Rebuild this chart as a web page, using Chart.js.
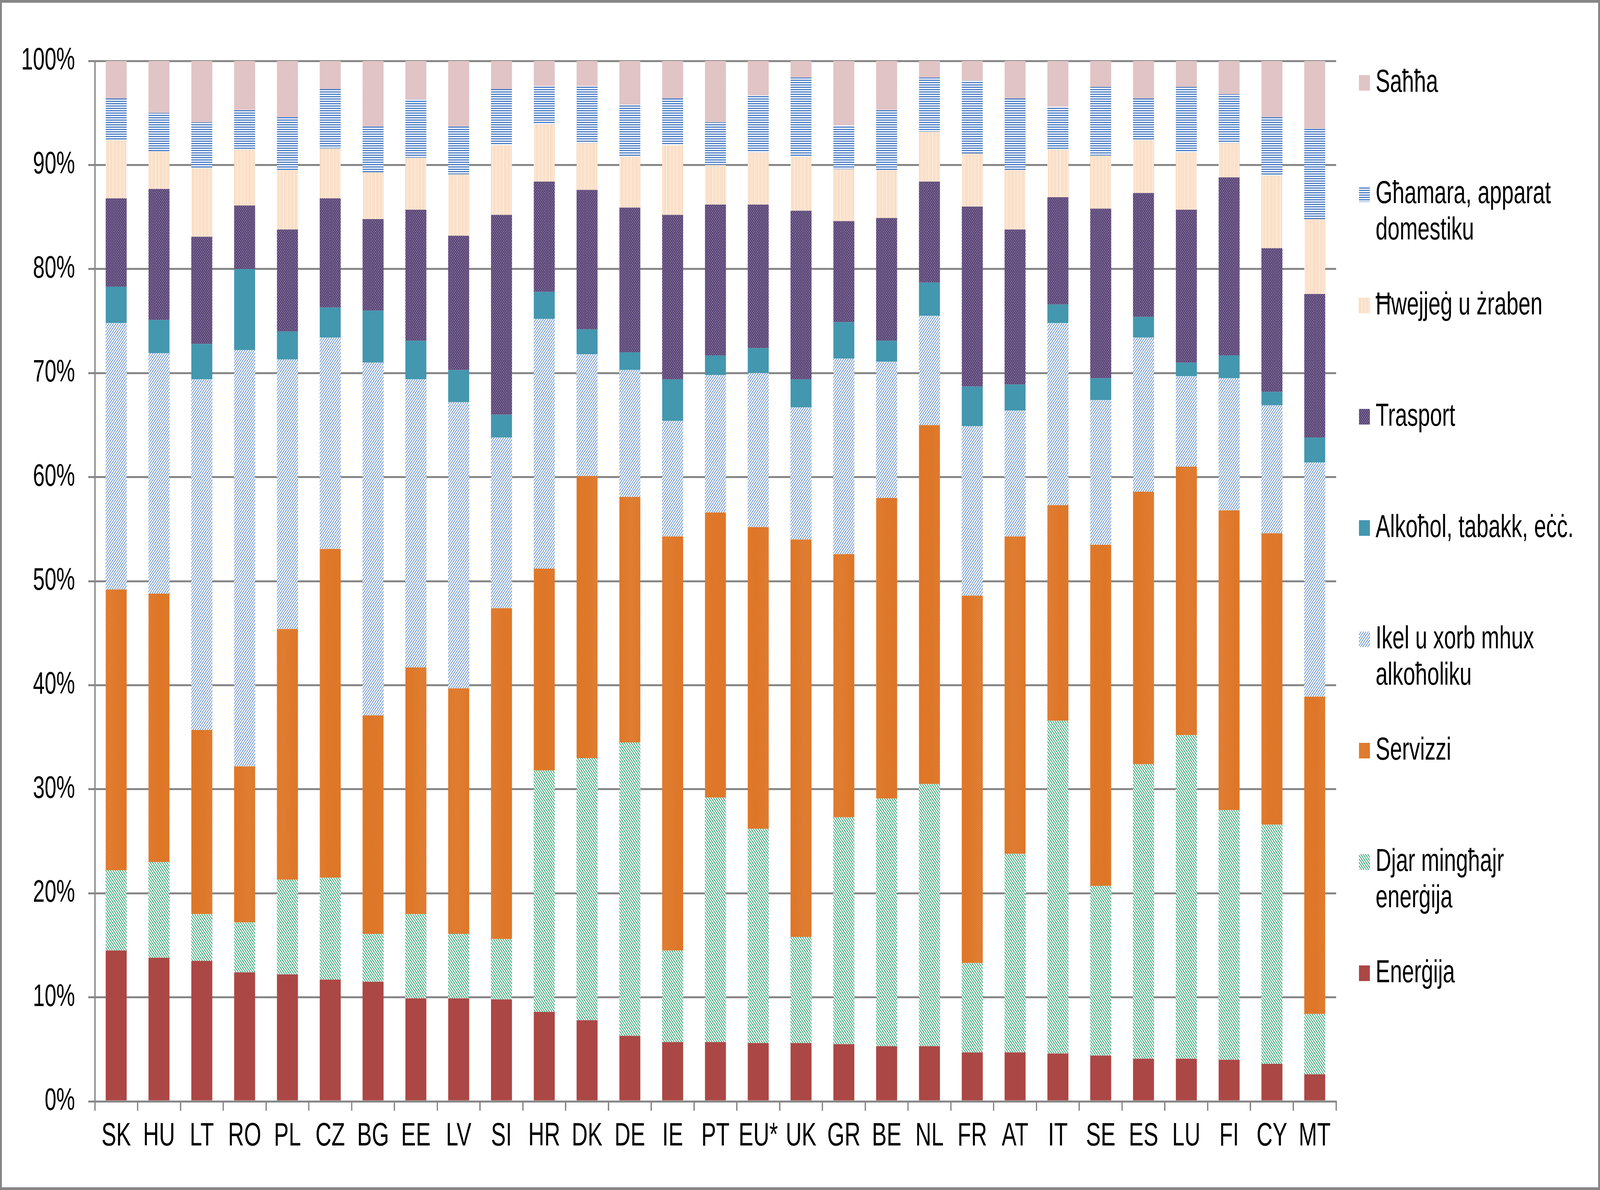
<!DOCTYPE html>
<html>
<head>
<meta charset="utf-8">
<script src="https://cdn.jsdelivr.net/npm/chart.js@4.4.0/dist/chart.umd.min.js"></script>
<style>
    html, body { margin: 0; padding: 0; background: #fff; overflow: hidden; }
    canvas { display: block; }
</style>
</head>
<body>
<canvas id="grafico" width="6075" height="3047" style="width:100vw;height:100vh"></canvas>
<script>
// Pajjiżi (assi x)
var pajjizi = ["SK", "HU", "LT", "RO", "PL", "CZ", "BG", "EE", "LV", "SI", "HR", "DK", "DE", "IE", "PT",
    "EU*", "UK", "GR", "BE", "NL", "FR", "AT", "IT", "SE", "ES", "LU", "FI", "CY", "MT"];

// Sehem ta' kull kategorija (%), mill-isfel għall-fuq
var energija = [14.5, 13.8, 13.5, 12.4, 12.2, 11.7, 11.5, 9.9, 9.9, 9.8, 8.6, 7.8, 6.3, 5.7, 5.7,
    5.6, 5.6, 5.5, 5.3, 5.3, 4.7, 4.7, 4.6, 4.4, 4.1, 4.1, 4.0, 3.6, 2.6];
var djar = [7.7, 9.2, 4.5, 4.8, 9.1, 9.8, 4.6, 8.1, 6.2, 5.8, 23.2, 25.2, 28.2, 8.8, 23.5,
    20.6, 10.2, 21.8, 23.8, 25.2, 8.6, 19.1, 32.0, 16.3, 28.3, 31.1, 24.0, 23.0, 5.8];
var servizzi = [27.0, 25.8, 17.7, 15.0, 24.1, 31.6, 21.0, 23.7, 23.6, 31.8, 19.4, 27.1, 23.6, 39.8, 27.4,
    29.0, 38.2, 25.3, 28.9, 34.5, 35.3, 30.5, 20.7, 32.8, 26.2, 25.8, 28.8, 28.0, 30.5];
var ikel = [25.6, 23.1, 33.7, 40.0, 25.9, 20.3, 33.9, 27.7, 27.5, 16.4, 24.0, 11.7, 12.2, 11.1, 13.2,
    14.8, 12.7, 18.8, 13.1, 10.5, 16.3, 12.1, 17.5, 13.9, 14.8, 8.7, 12.7, 12.3, 22.5];
var alkohol = [3.5, 3.2, 3.4, 7.8, 2.7, 2.9, 5.0, 3.7, 3.1, 2.2, 2.6, 2.4, 1.7, 4.0, 1.9,
    2.4, 2.7, 3.5, 2.0, 3.2, 3.8, 2.5, 1.8, 2.1, 2.0, 1.3, 2.2, 1.3, 2.4];
var trasport = [8.5, 12.6, 10.3, 6.1, 9.8, 10.5, 8.8, 12.6, 12.9, 19.2, 10.6, 13.4, 13.9, 15.8, 14.5,
    13.8, 16.2, 9.7, 11.8, 9.7, 17.3, 14.9, 10.3, 16.3, 11.9, 14.7, 17.1, 13.8, 13.8];
var hwejjeg = [5.6, 3.6, 6.6, 5.4, 5.7, 4.8, 4.5, 5.0, 5.9, 6.7, 5.5, 4.5, 4.9, 6.7, 3.8,
    5.0, 5.2, 5.0, 4.6, 4.8, 5.1, 5.7, 4.6, 5.1, 5.1, 5.5, 3.3, 7.0, 7.2];
var ghamara = [4.0, 3.7, 4.4, 3.8, 5.1, 5.7, 4.4, 5.6, 4.6, 5.4, 3.7, 5.5, 5.0, 4.5, 4.1,
    5.5, 7.6, 4.2, 5.8, 5.2, 7.0, 6.9, 4.1, 6.6, 4.0, 6.3, 4.7, 5.6, 8.7];
var sahha = [3.6, 5.0, 5.9, 4.7, 5.4, 2.7, 6.3, 3.7, 6.3, 2.7, 2.4, 2.4, 4.2, 3.6, 5.9,
    3.3, 1.6, 6.2, 4.7, 1.6, 1.9, 3.6, 4.4, 2.5, 3.6, 2.5, 3.2, 5.4, 6.5];

// Ismijiet tas-serje (linji għal-leġġenda)
var ismijiet = [
    ["Enerġija"],
    ["Djar mingħajr", "enerġija"],
    ["Servizzi"],
    ["Ikel u xorb mhux", "alkoħoliku"],
    ["Alkoħol, tabakk, eċċ."],
    ["Trasport"],
    ["Ħwejjeġ u żraben"],
    ["Għamara, apparat", "domestiku"],
    ["Saħħa"]
];
var yTicks = [0, 10, 20, 30, 40, 50, 60, 70, 80, 90, 100];

var canvas = document.getElementById('grafico');
var ctx = canvas.getContext('2d');

/*
 * Funzjonijiet żgħar biex jinħolqu l-mudelli (patterns) tal-mili.
 */
function tila(p, desenha) {
    var c = document.createElement('canvas');
    c.width = p;
    c.height = p;
    var g = c.getContext('2d');
    desenha(g, p);
    return ctx.createPattern(c, 'repeat');
}

function listraDijagonali(cor, p, w, dir) {
    return tila(p, function (g, p) {
        g.fillStyle = '#fff';
        g.fillRect(0, 0, p, p);
        g.strokeStyle = cor;
        g.lineWidth = w;
        g.beginPath();
        for (let k of [-p, 0, p]) {
            if (dir === '/') {
                g.moveTo(k, p);
                g.lineTo(k + p, 0);
            } else {
                g.moveTo(k, 0);
                g.lineTo(k + p, p);
            }
        }
        g.stroke();
    });
}

function listraDritta(cor, p, w, vertikali) {
    return tila(p, function (g, p) {
        g.fillStyle = '#fff';
        g.fillRect(0, 0, p, p);
        g.fillStyle = cor;
        if (vertikali) g.fillRect(0, 0, w, p);
        else g.fillRect(0, 0, p, w);
    });
}

function tikki(sfond, cor, p, d) {
    return tila(p, function (g, p) {
        g.fillStyle = sfond;
        g.fillRect(0, 0, p, p);
        g.fillStyle = cor;
        g.fillRect(0, 0, d, d);
        g.fillRect(p / 2, p / 2, d, d);
    });
}

var kuluri = [
    '#ab4745',                                  // Enerġija
    listraDijagonali('#1f9a63', 9, 2.4, '\\'),  // Djar
    tikki('#dd711f', '#ffffff', 6, 1),          // Servizzi
    listraDijagonali('#4a7cc4', 9, 2.0, '/'),   // Ikel
    '#4397ae',                                  // Alkoħol
    tikki('#5c4779', '#ffffff', 8, 1.5),        // Trasport
    listraDritta('#f5b782', 5, 2, true),        // Ħwejjeġ
    listraDritta('#4a7cc4', 6, 3, false),       // Għamara
    tikki('#ffffff', '#c48a8c', 2, 1)           // Saħħa
];

var serje = [energija, djar, servizzi, ikel, alkohol, trasport, hwejjeg, ghamara, sahha];
var datasets = [];
for (let i = 0; i < serje.length; i++) {
    datasets.push({
        label: ismijiet[i].join(' '),
        data: serje[i],
        backgroundColor: kuluri[i],
        borderWidth: 0,
        categoryPercentage: 1.0,
        barPercentage: 0.49
    });
}

var griz = '#868686';
var font = "'Liberation Sans', Arial, sans-serif";

// Leġġenda fuq il-lemin, mill-ogħla serje għall-aktar baxxa
var legendaPlugin = {
    id: 'legenda',
    afterDraw: function (chart) {
        var c = chart.ctx;
        c.save();
        c.font = "82px " + font;
        c.textBaseline = 'middle';
        c.textAlign = 'left';
        var n = chart.data.datasets.length;
        for (let j = 0; j < n; j++) {
            var idx = n - 1 - j;
            var y = 212 + j * 285;
            c.fillStyle = chart.data.datasets[idx].backgroundColor;
            c.fillRect(5160, y - 20, 41, 40);
            c.fillStyle = '#000';
            var linji = ismijiet[idx];
            for (let k = 0; k < linji.length; k++) {
                c.fillText(linji[k], 5223, y + k * 93);
            }
        }
        // qafas ta' barra
        c.strokeStyle = griz;
        c.lineWidth = 7;
        c.strokeRect(3.5, 3.5, chart.width - 7, chart.height - 7);
        c.restore();
    },
    beforeDraw: function (chart) {
        var c = chart.ctx;
        c.save();
        c.fillStyle = '#fff';
        c.fillRect(0, 0, chart.width, chart.height);
        c.restore();
    }
};

new Chart(canvas, {
    type: 'bar',
    data: {
        labels: pajjizi,
        datasets: datasets
    },
    options: {
        responsive: false,
        animation: false,
        devicePixelRatio: 1,
        layout: {
            padding: {top: 156, right: 1002, left: 0, bottom: 0}
        },
        plugins: {
            legend: {display: false},
            tooltip: {enabled: false}
        },
        scales: {
            x: {
                stacked: true,
                grid: {
                    display: true,
                    drawOnChartArea: false,
                    drawTicks: true,
                    tickLength: 24,
                    color: griz,
                    lineWidth: 5,
                    offset: true
                },
                border: {display: true, color: griz, width: 5},
                ticks: {
                    color: '#000',
                    font: {size: 84, family: font},
                    padding: 15,
                    maxRotation: 0,
                    autoSkip: false
                },
                afterFit: function (scale) {
                    scale.height = 227;
                }
            },
            y: {
                stacked: true,
                min: 0,
                max: 100,
                afterBuildTicks: function (scale) {
                    scale.ticks = yTicks.map(v => ({value: v}));
                },
                grid: {
                    color: griz,
                    lineWidth: 5,
                    tickLength: 25
                },
                border: {display: true, color: griz, width: 5},
                ticks: {
                    color: '#000',
                    font: {size: 80, family: font},
                    padding: 50,
                    callback: function (v) { return v + '%'; }
                },
                afterFit: function (scale) {
                    scale.width = 360;
                }
            }
        }
    },
    plugins: [legendaPlugin]
});
</script>
</body>
</html>
